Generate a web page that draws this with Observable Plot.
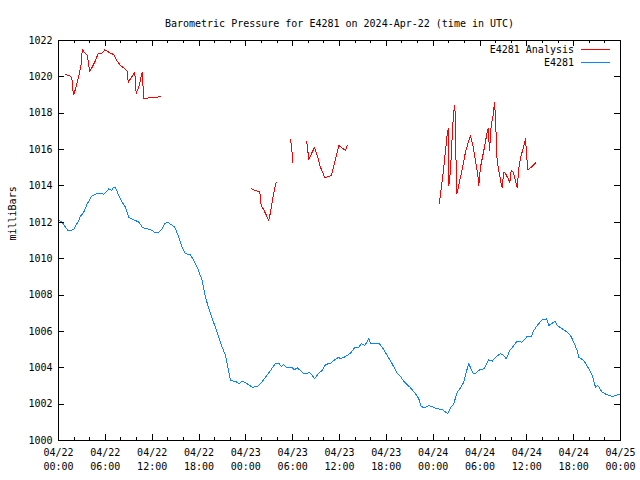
<!DOCTYPE html>
<html><head><meta charset="utf-8">
<script src="https://cdn.jsdelivr.net/npm/d3@7"></script>
<script src="https://cdn.jsdelivr.net/npm/@observablehq/plot@0.6"></script>
<style>body{margin:0;background:#fff} svg{display:block}</style>
</head><body><div id="chart"></div>
<script>
// Hours since 2024-04-22 00:00 UTC
const startTime = "2024-04-22T00:00:00Z";
const endTime = "2024-04-25T00:00:00Z";
const titleText = "Barometric Pressure for E4281 on 2024-Apr-22 (time in UTC)";
const yLabel = "milliBars";
const seriesNames = ["E4281 Analysis", "E4281"];
const seriesColors = ["#ff0000", "#0a84ff"];

const stationHours = [0.00,0.47,1.19,1.96,2.18,2.52,2.73,3.24,3.68,4.23,4.96,5.60,5.80,6.44,6.79,7.08,7.30,7.72,8.16,8.58,9.01,9.65,10.29,10.80,11.36,12.00,12.43,12.85,13.29,13.62,14.00,14.57,14.90,15.41,15.85,16.27,16.91,17.33,17.77,18.41,18.83,19.26,19.69,20.11,20.54,20.97,21.39,21.69,22.04,22.68,23.10,23.53,24.18,24.82,25.46,25.88,26.52,27.16,27.80,28.22,28.53,28.86,29.21,29.94,30.23,30.58,31.00,31.43,31.86,32.07,32.50,32.80,33.35,33.78,34.21,34.85,35.27,35.91,36.13,36.77,37.41,37.92,38.47,38.78,39.24,39.75,39.97,41.03,41.47,42.11,42.75,43.30,43.81,44.16,44.67,45.10,45.74,46.16,46.47,46.89,47.44,47.87,48.52,49.16,49.58,49.87,50.22,50.64,51.08,51.50,51.92,52.27,52.56,53.13,53.42,53.97,54.49,55.13,55.56,55.98,56.62,57.05,57.35,57.82,58.33,58.76,59.40,60.04,60.56,60.89,61.33,61.97,62.52,62.81,63.25,63.58,63.89,64.53,65.17,65.59,66.01,66.45,66.66,67.30,67.94,68.37,68.80,69.09,69.65,70.29,70.94,71.36,72.00];
const stationValues = [1012.10,1012.01,1011.55,1011.59,1011.83,1012.01,1012.28,1012.56,1013.02,1013.42,1013.60,1013.60,1013.53,1013.84,1013.75,1013.93,1013.90,1013.48,1013.11,1012.83,1012.28,1012.14,1012.01,1011.70,1011.64,1011.55,1011.42,1011.46,1011.64,1011.92,1012.01,1011.83,1011.73,1011.18,1010.63,1010.27,1010.21,1009.90,1009.53,1008.80,1007.88,1007.24,1006.69,1006.23,1005.68,1005.13,1004.68,1004.03,1003.30,1003.25,1003.12,1003.26,1003.12,1002.93,1002.97,1003.12,1003.48,1003.85,1004.25,1004.25,1004.07,1004.18,1004.00,1004.00,1003.89,1004.00,1003.85,1003.67,1003.67,1003.76,1003.58,1003.39,1003.70,1003.85,1004.18,1004.25,1004.40,1004.58,1004.49,1004.62,1004.80,1005.10,1005.13,1005.32,1005.23,1005.59,1005.35,1005.35,1005.13,1004.68,1004.22,1003.76,1003.52,1003.30,1003.08,1002.90,1002.57,1002.29,1001.87,1001.80,1001.91,1001.87,1001.74,1001.72,1001.56,1001.47,1001.80,1002.02,1002.66,1002.90,1003.21,1003.81,1004.22,1003.67,1003.70,1003.89,1003.94,1004.44,1004.36,1004.58,1004.77,1004.68,1004.49,1004.95,1005.23,1005.46,1005.41,1005.72,1005.72,1006.05,1006.33,1006.64,1006.69,1006.33,1006.45,1006.56,1006.33,1006.14,1005.96,1005.78,1005.41,1004.95,1004.58,1004.40,1003.94,1003.58,1002.93,1003.03,1002.66,1002.51,1002.42,1002.48,1002.57];

// null marks a gap in the analysis record
const analysisHours = [0.90,1.54,1.76,1.83,1.96,2.18,2.69,2.91,3.04,3.68,3.88,4.01,4.32,4.74,5.09,5.51,5.93,6.66,7.08,7.52,7.94,8.49,8.80,8.93,9.35,9.77,9.95,10.29,10.72,10.93,11.36,12.21,13.07,
  18.0,
  24.73,25.24,25.79,25.97,26.30,26.94,27.16,27.51,27.89,
  28.8,
  29.72,29.85,30.02,
  30.9,
  31.77,31.86,32.07,32.80,33.22,33.56,34.12,34.97,35.40,35.91,36.77,36.99,
  42.0,
  48.81,48.94,49.16,49.36,49.49,49.71,49.80,49.92,50.00,50.13,50.31,50.51,50.64,50.77,50.86,50.99,51.15,51.41,51.72,52.14,52.56,52.78,53.13,53.42,53.72,53.85,54.06,54.49,54.92,55.05,55.22,55.43,55.69,55.86,55.98,56.20,56.41,56.71,56.84,57.05,57.27,57.56,57.82,58.00,58.25,58.55,58.76,58.97,59.19,59.53,59.83,60.04,60.12,60.69,61.11];
const analysisValues = [1020.13,1020.04,1019.80,1019.25,1019.03,1019.34,1020.20,1020.72,1021.49,1021.18,1020.63,1020.31,1020.53,1020.90,1021.30,1021.27,1021.49,1021.30,1021.23,1020.86,1020.63,1020.44,1020.31,1019.71,1019.98,1020.26,1019.10,1019.43,1020.26,1018.79,1018.83,1018.88,1018.90,
  null,
  1013.84,1013.75,1013.66,1012.93,1012.69,1012.10,1012.56,1013.48,1014.21,
  null,
  1016.54,1016.23,1015.27,
  null,
  1016.45,1016.23,1015.46,1016.13,1015.58,1015.03,1014.45,1014.58,1015.31,1016.23,1015.95,1016.23,
  null,
  1013.05,1013.57,1014.30,1015.00,1015.58,1016.41,1016.87,1017.14,1014.03,1014.39,1015.58,1017.33,1018.06,1018.43,1017.42,1013.57,1013.75,1014.30,1014.94,1015.86,1016.50,1016.78,1016.13,1015.40,1014.58,1014.03,1015.03,1015.95,1016.96,1017.14,1015.95,1017.33,1017.88,1018.61,1017.78,1015.31,1014.85,1014.12,1013.93,1014.76,1014.67,1014.45,1014.21,1014.85,1014.76,1014.30,1013.93,1014.94,1015.58,1016.04,1016.59,1015.31,1014.89,1015.07,1015.27];

const yTickValues = [1000,1002,1004,1006,1008,1010,1012,1014,1016,1018,1020,1022];
const xMajorStepHours = 6;
const xMinorStepHours = 2;

const t0 = Date.parse(startTime);
const toDate = h => new Date(t0 + h * 3600e3);
const station = stationHours.map((h, i) => ({t: toDate(h), v: stationValues[i]}));
const analysis = analysisHours.map((h, i) => ({t: toDate(h), v: analysisValues[i]}));
const xDomain = [new Date(startTime), new Date(endTime)];
const xMajor = d3.utcHour.every(xMajorStepHours).range(xDomain[0], new Date(+xDomain[1] + 1));
const xMinor = d3.utcHour.every(xMinorStepHours).range(xDomain[0], new Date(+xDomain[1] + 1));
const fmt = d3.utcFormat("%m/%d");
const fmt2 = d3.utcFormat("%H:%M");

const H = 480, W = 640;
const chart = Plot.plot({
  width: W, height: H,
  marginLeft: 58, marginRight: 20, marginTop: 40, marginBottom: 40,
  style: {fontFamily: "'DejaVu Sans Mono', monospace", fontSize: "10px", background: "#fff", color: "#000"},
  x: {type: "utc", domain: xDomain},
  y: {domain: [1000, 1022]},
  marks: [
    Plot.line(analysis, {x: "t", y: "v", stroke: seriesColors[0], strokeWidth: 1}),
    Plot.line(station, {x: "t", y: "v", stroke: seriesColors[1], strokeWidth: 1}),
    Plot.tickX(xMinor, {x: d => d, insetTop: 397, stroke: "#000"}),
    Plot.tickX(xMinor, {x: d => d, insetBottom: 397, stroke: "#000"}),
    Plot.tickX(xMajor, {x: d => d, insetTop: 394, stroke: "#000"}),
    Plot.tickX(xMajor, {x: d => d, insetBottom: 394, stroke: "#000"}),
    Plot.tickY(yTickValues, {y: d => d, insetRight: 556, stroke: "#000"}),
    Plot.tickY(yTickValues, {y: d => d, insetLeft: 556, stroke: "#000"}),
    Plot.frame({stroke: "#000"}),
    Plot.axisX(xMajor, {anchor: "bottom", tickSize: 0, tickPadding: 6, lineHeight: 1.4, tickFormat: d => fmt(d) + "\n" + fmt2(d), label: null, fill: "#000"}),
    Plot.axisY(yTickValues, {anchor: "left", tickSize: 0, tickPadding: 6, tickFormat: d => String(d), label: null, fill: "#000"}),
    Plot.text([titleText], {frameAnchor: "top", dy: -21, fill: "#000"}),
    Plot.text([yLabel], {frameAnchor: "left", dx: -46, rotate: -90, fill: "#000"})
  ]
});
chart.style.shapeRendering = "crispEdges";
document.getElementById("chart").append(chart);

// legend (top-right, inside frame)
const svg = d3.select(chart);
const lg = svg.append("g").attr("font-family", "'DejaVu Sans Mono', monospace").attr("font-size", 10);
seriesNames.forEach((name, i) => {
  const y = 49 + i * 13;
  lg.append("text").attr("x", 574).attr("y", y).attr("dy", "0.35em").attr("text-anchor", "end").attr("fill", "#000").text(name);
  lg.append("line").attr("x1", 581).attr("x2", 610).attr("y1", Math.round(y) + 0.5).attr("y2", Math.round(y) + 0.5)
    .attr("stroke", seriesColors[i]).attr("stroke-width", 1);
});
</script>
</body></html>
